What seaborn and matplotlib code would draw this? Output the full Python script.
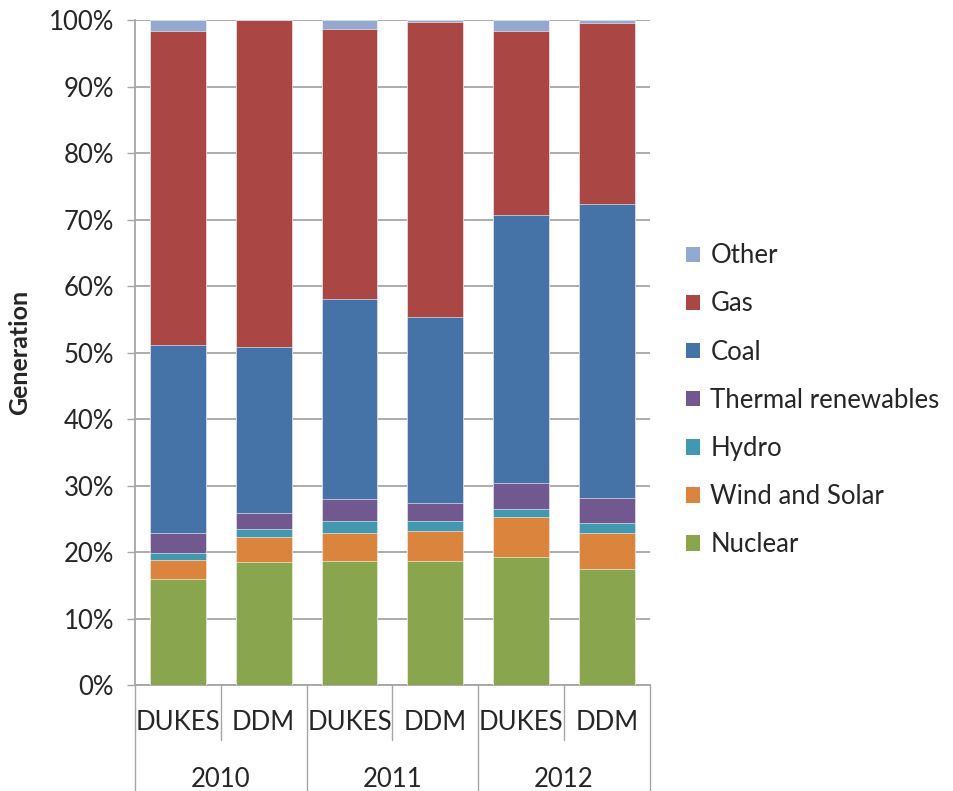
import numpy as np
import pandas as pd
import seaborn as sns
import matplotlib.pyplot as plt
from matplotlib.patches import Patch
from matplotlib.ticker import PercentFormatter
from matplotlib.transforms import blended_transform_factory

# -----------------------------
# Data (share of generation, %)
# -----------------------------
years = ["2010", "2011", "2012"]
sources = ["DUKES", "DDM"]
bars = [f"{y} {s}" for y in years for s in sources]

nuclear = [16.0, 18.45, 18.6, 18.7, 19.25, 17.5]
wind_solar = [2.8, 3.75, 4.3, 4.5, 5.95, 5.4]
hydro = [1.0, 1.3, 1.7, 1.4, 1.2, 1.5]
thermal = [3.0, 2.4, 3.4, 2.7, 4.0, 3.7]
coal = [28.3, 24.9, 30.0, 28.1, 40.3, 44.2]
gas = [47.3, 49.15, 40.7, 44.3, 27.6, 27.2]
other = [1.6, 0.05, 1.3, 0.3, 1.7, 0.5]

stack = ["Nuclear", "Wind and Solar", "Hydro", "Thermal renewables", "Coal", "Gas", "Other"]
colors = {
    "Nuclear": "#89A54E",
    "Wind and Solar": "#DB843D",
    "Hydro": "#4198AF",
    "Thermal renewables": "#71588F",
    "Coal": "#4572A7",
    "Gas": "#AA4643",
    "Other": "#93A9CF",
}

df = pd.DataFrame({
    "bar": bars,
    "Nuclear": nuclear,
    "Wind and Solar": wind_solar,
    "Hydro": hydro,
    "Thermal renewables": thermal,
    "Coal": coal,
    "Gas": gas,
    "Other": other,
})
cum = df[stack].cumsum(axis=1)
cum["bar"] = df["bar"]

# -----------------------------
# Plot
# -----------------------------
sns.set_style("white")
plt.rcParams["font.family"] = ["Lato", "DejaVu Sans"]

fig = plt.figure(figsize=(9.54, 7.91), dpi=100)
ax = fig.add_axes([0.1415, 0.134, 0.5395, 0.8407])

# draw cumulative bars back to front so they look stacked
for name in reversed(stack):
    sns.barplot(data=cum, x="bar", y=name, order=bars, color=colors[name],
                saturation=1, width=0.65, errorbar=None, ax=ax,
                edgecolor="white", linewidth=0.4, zorder=3)

grid_col = "#A6A6A6"
ax.set_ylim(0, 100)
ax.set_xlim(-0.5, 5.5)
ax.set_yticks(np.arange(0, 101, 10))
ax.yaxis.set_major_formatter(PercentFormatter(decimals=0))
ax.yaxis.grid(True, color=grid_col, linewidth=1.3, zorder=0)
ax.set_axisbelow(True)
ax.tick_params(axis="y", which="major", direction="out", length=6, width=1.0,
               color=grid_col, left=True, labelsize=18.5, pad=9)
ax.set_xticks([])
ax.set_xlabel("")
ax.set_ylabel("")
for s in ["top", "right"]:
    ax.spines[s].set_visible(False)
for s in ["left", "bottom"]:
    ax.spines[s].set_color(grid_col)
    ax.spines[s].set_linewidth(1.3)

# multi-level category axis
tr = blended_transform_factory(ax.transData, ax.transAxes)
for x in [-0.5, 1.5, 3.5, 5.5]:
    ax.plot([x, x], [0, -0.16], transform=tr, color=grid_col, lw=1.0, clip_on=False)
for x in [0.5, 2.5, 4.5]:
    ax.plot([x, x], [0, -0.083], transform=tr, color=grid_col, lw=1.0, clip_on=False)
for i, b in enumerate(bars):
    ax.text(i, -0.057, b.split(" ")[1], transform=tr, ha="center", va="center",
            fontsize=18.5)
for j, y in enumerate(years):
    ax.text(2 * j + 0.5, -0.142, y, transform=tr, ha="center", va="center",
            fontsize=18.5)

fig.text(20 / 954, 0.555, "Generation", rotation=90, ha="center", va="center",
         fontsize=18, fontweight="bold")

handles = [Patch(facecolor=colors[n], edgecolor="none") for n in reversed(stack)]
leg = fig.legend(handles, list(reversed(stack)), loc="center left",
                 bbox_to_anchor=(0.719, 0.494), frameon=False, fontsize=18.5,
                 handlelength=0.55, handleheight=0.55, handletextpad=0.4,
                 labelspacing=0.9, borderaxespad=0, borderpad=0)

fig.savefig("out.png", dpi=100)
plt.close(fig)
